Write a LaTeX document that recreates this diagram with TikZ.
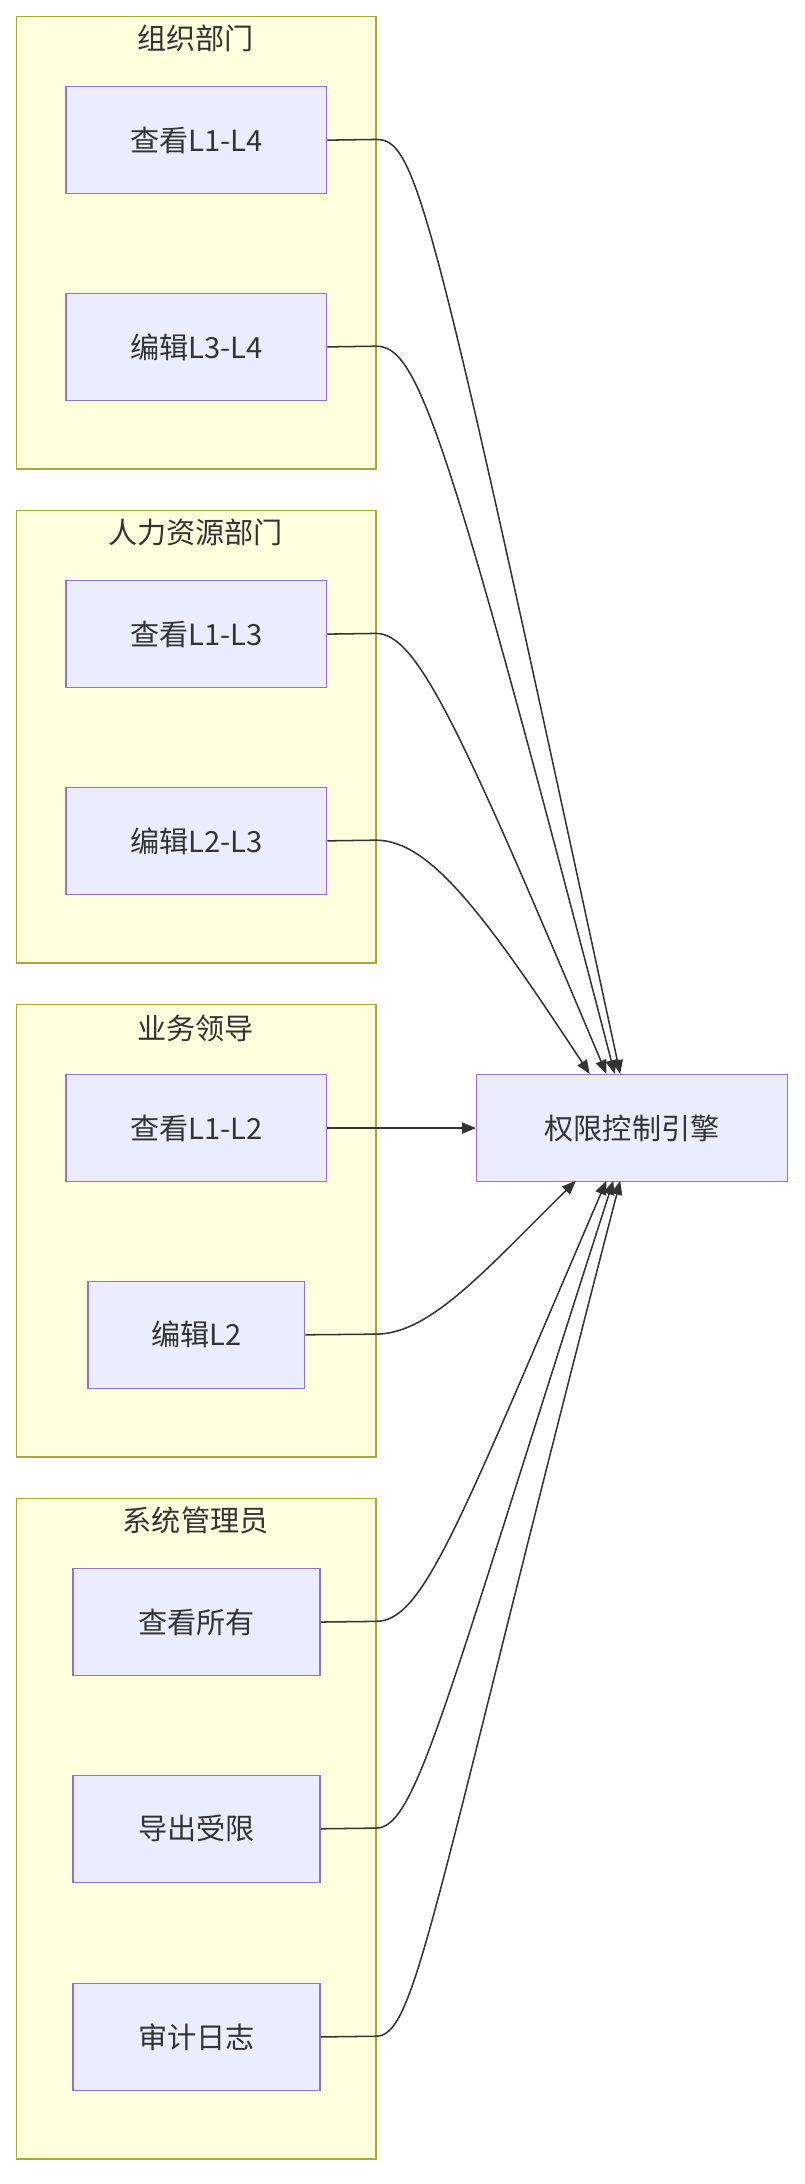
\documentclass[tikz,border=0pt]{standalone}
\usepackage{fontspec}
\setmainfont{Noto Sans CJK SC}
\usetikzlibrary{arrows.meta}
\definecolor{cfill}{HTML}{FFFFDE}\definecolor{cline}{HTML}{AAAA33}
\definecolor{nfill}{HTML}{ECECFF}\definecolor{nline}{HTML}{9370DB}
\definecolor{tx}{HTML}{333333}
\begin{document}
\begin{tikzpicture}[x=1pt,y=-1pt,
 clus/.style={draw=cline,fill=cfill,line width=1pt},
 box/.style={draw=nline,fill=nfill,line width=1pt,text=tx,font=\fontsize{21}{25}\selectfont,anchor=north west,inner sep=0pt,align=center},
 ttl/.style={text=tx,font=\fontsize{21}{25}\selectfont},
 link/.style={draw=tx,line width=1.1pt,-{Triangle[length=10pt,width=8pt]}}]
\useasboundingbox (0,0) rectangle (580,1574);
\draw[clus] (12,12) rectangle (271,338); \node[ttl] (c1) at (141,28) {组织部门};
\draw[clus] (12,368) rectangle (271,694); \node[ttl] (c2) at (141,384) {人力资源部门};
\draw[clus] (12,724) rectangle (271,1050); \node[ttl] (c3) at (141,741) {业务领导};
\draw[clus] (12,1080) rectangle (271,1556); \node[ttl] (c4) at (141,1096) {系统管理员};
\node[box,minimum width=188,minimum height=77] (a1) at (47,62) {查看L1-L4};
\node[box,minimum width=188,minimum height=77] (a2) at (47,211) {编辑L3-L4};
\node[box,minimum width=188,minimum height=77] (b1) at (47,418) {查看L1-L3};
\node[box,minimum width=188,minimum height=77] (b2) at (47,567) {编辑L2-L3};
\node[box,minimum width=188,minimum height=77] (d1) at (47,774) {查看L1-L2};
\node[box,minimum width=156,minimum height=77] (d2) at (63,923) {编辑L2};
\node[box,minimum width=178,minimum height=77] (e1) at (52,1130) {查看所有};
\node[box,minimum width=178,minimum height=77] (e2) at (52,1279) {导出受限};
\node[box,minimum width=178,minimum height=77] (e3) at (52,1429) {审计日志};
\node[box,minimum width=224,minimum height=77] (eng) at (343,774) {权限控制引擎};
\coordinate (t1) at (447,774); \coordinate (t2) at (443,774);
\coordinate (t3) at (437,774); \coordinate (t4) at (425,774);
\coordinate (u1) at (415,851); \coordinate (u2) at (437,851);
\coordinate (u3) at (442,851); \coordinate (u4) at (447,851);
\draw[link] (a1.east) -- (271,100.5) .. controls (300,100.5) and (310,140) .. (t1);
\draw[link] (a2.east) -- (271,249.5) .. controls (300,249.5) and (320,300) .. (t2);
\draw[link] (b1.east) -- (271,456.5) .. controls (300,456.5) and (330,520) .. (t3);
\draw[link] (b2.east) -- (271,605.5) .. controls (310,605.5) and (350,660) .. (t4);
\draw[link] (d1.east) -- (eng.west);
\draw[link] (d2.east) -- (271,961.5) .. controls (310,961.5) and (350,915) .. (u1);
\draw[link] (e1.east) -- (271,1168.5) .. controls (305,1168.5) and (330,1100) .. (u2);
\draw[link] (e2.east) -- (271,1317.5) .. controls (300,1317.5) and (320,1230) .. (u3);
\draw[link] (e3.east) -- (271,1467.5) .. controls (300,1467.5) and (310,1380) .. (u4);
\end{tikzpicture}
\end{document}
